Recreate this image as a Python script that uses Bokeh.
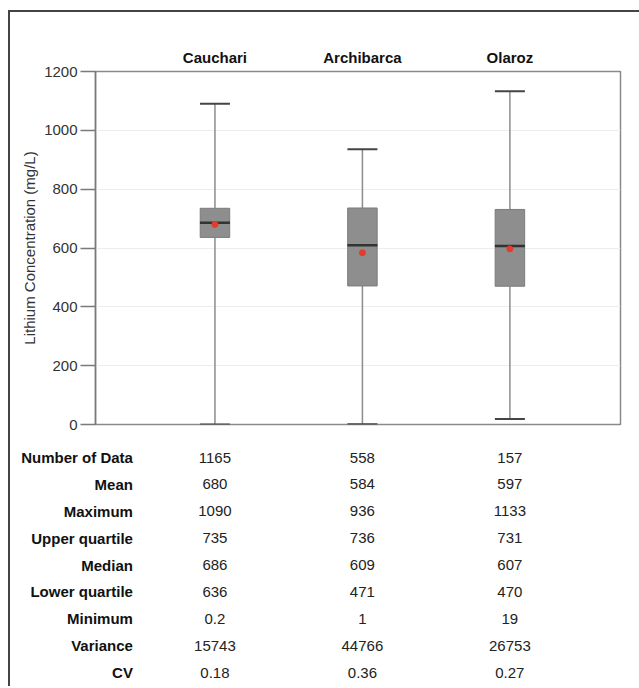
from bokeh.plotting import figure
from bokeh.layouts import column
from bokeh.models import Range1d, FixedTicker
from bokeh.embed import file_html
from bokeh.resources import INLINE
from bokeh.core.properties import value

# ---- data ----
sites = ["Cauchari", "Archibarca", "Olaroz"]
n_data = [1165, 558, 157]
mean = [680, 584, 597]
maximum = [1090, 936, 1133]
upper_q = [735, 736, 731]
median = [686, 609, 607]
lower_q = [636, 471, 470]
minimum = [0.2, 1, 19]
variance = [15743, 44766, 26753]
cv = [0.18, 0.36, 0.27]

row_labels = ["Number of Data", "Mean", "Maximum", "Upper quartile", "Median",
              "Lower quartile", "Minimum", "Variance", "CV"]
row_values = [n_data, mean, maximum, upper_q, median, lower_q, minimum, variance, cv]
y_ticks = [0, 200, 400, 600, 800, 1000, 1200]

FONT = value("Liberation Sans")
FS = "15px"
xs = list(range(len(sites)))

# ---- box plot ----
p = figure(width=629, height=428, x_range=Range1d(-0.81, 2.75), y_range=Range1d(0, 1200),
           x_axis_location="above", output_backend="svg", toolbar_location=None,
           min_border_left=85, min_border_right=19, min_border_top=59, min_border_bottom=16)
p.frame_align = False
p.outline_line_color = "#8a8a8a"
p.outline_line_width = 1.5
p.outline_line_alpha = 1.0
p.xgrid.visible = False
p.ygrid.grid_line_color = "#ededed"
p.ygrid.ticker = FixedTicker(ticks=y_ticks)

xa = p.xaxis[0]
xa.ticker = FixedTicker(ticks=xs)
xa.major_label_overrides = {i: s for i, s in enumerate(sites)}
xa.major_tick_line_color = None
xa.minor_tick_line_color = None
xa.axis_line_color = None
xa.major_label_text_font = "Liberation Sans"
xa.major_label_text_font_style = "bold"
xa.major_label_text_font_size = FS
xa.major_label_text_color = "#111111"
xa.major_label_standoff = 0

ya = p.yaxis[0]
ya.ticker = FixedTicker(ticks=y_ticks)
ya.major_tick_out = 15
ya.major_tick_in = 0
ya.minor_tick_line_color = None
ya.axis_line_color = "#7a7a7a"
ya.axis_line_width = 1.5
ya.major_tick_line_color = "#7a7a7a"
ya.major_tick_line_width = 1.5
ya.major_label_text_font = "Liberation Sans"
ya.major_label_text_font_size = FS
ya.major_label_text_color = "#333333"
ya.major_label_standoff = 3
ya.axis_label = "Lithium Concentration (mg/L)"
ya.axis_label_text_font = "Liberation Sans"
ya.axis_label_text_font_style = "normal"
ya.axis_label_text_font_size = FS
ya.axis_label_text_color = "#333333"
ya.axis_label_standoff = 3

# whiskers
p.segment(x0=xs, y0=upper_q, x1=xs, y1=maximum, line_color="#8c8c8c", line_width=1.5)
p.segment(x0=xs, y0=minimum, x1=xs, y1=lower_q, line_color="#8c8c8c", line_width=1.5)
# caps
p.scatter(x=xs, y=maximum, marker="dash", size=30, line_color="#444444", line_width=2)
p.scatter(x=xs, y=minimum, marker="dash", size=30, line_color="#444444", line_width=2)
# boxes
p.vbar(x=xs, bottom=lower_q, top=upper_q, width=0.2, fill_color="#8e8e8e",
       line_color="#7c7c7c", line_width=1)
# medians
p.scatter(x=xs, y=median, marker="dash", size=30, line_color="#333333", line_width=2.5)
# means
p.scatter(x=xs, y=mean, size=6, fill_color="#e33b2e", line_color="#e33b2e")

# ---- table ----
t = figure(width=629, height=246, x_range=Range1d(-1.386, 2.879), y_range=Range1d(8.52, -0.633),
           x_axis_type=None, y_axis_type=None, output_backend="svg", toolbar_location=None,
           min_border_left=0, min_border_right=0, min_border_top=0, min_border_bottom=0)
t.frame_align = False
t.outline_line_color = None
t.grid.visible = False

ry = list(range(len(row_labels)))
t.text(x=[-0.556] * len(row_labels), y=ry, text=row_labels, text_align="right",
       text_baseline="middle", text_font=FONT, text_font_style="bold",
       text_font_size=FS, text_color="#111111")

vx, vy, vt = [], [], []
for r, vals in enumerate(row_values):
    for i, v in enumerate(vals):
        vx.append(xs[i])
        vy.append(r)
        vt.append(f"{v:g}")
t.text(x=vx, y=vy, text=vt, text_align="center", text_baseline="middle",
       text_font=FONT, text_font_size=FS, text_color="#222222")

layout = column(p, t, spacing=0,
                styles={"border-left": "2px solid #444444", "border-top": "2px solid #444444",
                        "margin-top": "10px", "margin-left": "8px"})

open("out.html", "w").write(file_html(layout, INLINE))
